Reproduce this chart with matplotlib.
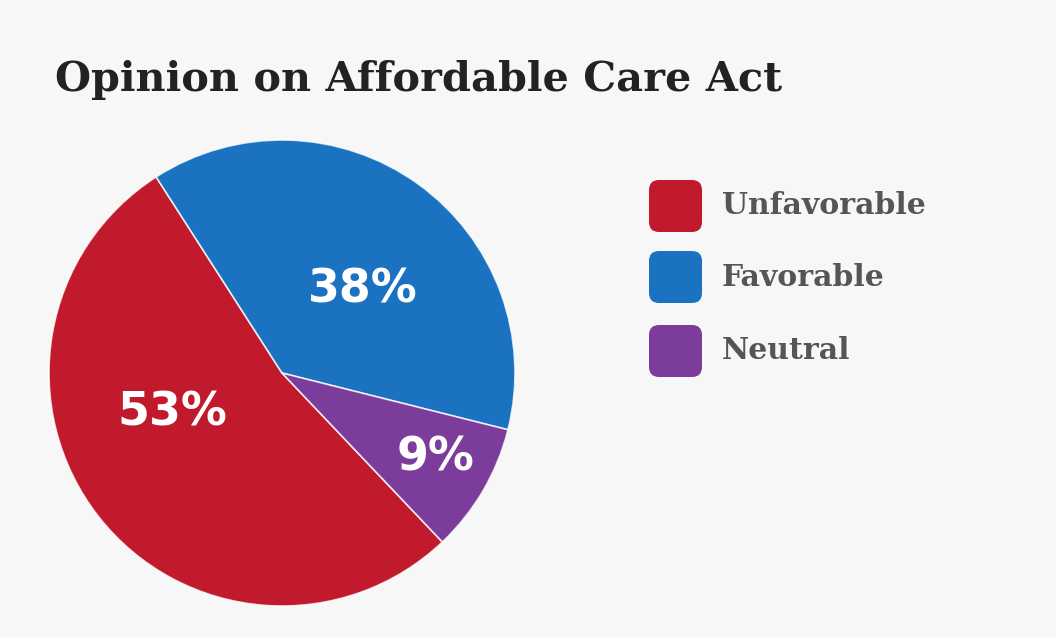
import matplotlib
matplotlib.use("Agg")
import matplotlib.pyplot as plt
from matplotlib.patches import FancyBboxPatch

# data
categories = ["Unfavorable", "Favorable", "Neutral"]
shares = [53, 38, 9]
colors = ["#c01a2c", "#1a72c0", "#7c3c9c"]
pct_labels = ["53%", "38%", "9%"]

W, H = 1056, 637
fig = plt.figure(figsize=(W / 100, H / 100), dpi=100)
fig.patch.set_facecolor("#f7f7f7")

# pie axes, placed in pixels (center 282,373 r 233)
cx, cy, r = 282, 373, 233
ax = fig.add_axes([(cx - r) / W, (H - cy - r) / H, 2 * r / W, 2 * r / H])
wedges, _ = ax.pie(shares, colors=colors, startangle=-46.5, counterclock=False,
                   wedgeprops=dict(edgecolor=(1, 1, 1, 0.8), linewidth=1.2))
ax.set_xlim(-1, 1)
ax.set_ylim(-1, 1)
ax.set_aspect("equal")
ax.axis("off")

# label spots inside the slices (radius units)
label_pos = [(-0.47, -0.17), (0.345, 0.355), (0.66, -0.365)]
for txt, (x, y) in zip(pct_labels, label_pos):
    ax.text(x, y, txt, ha="center", va="center", color="white",
            fontsize=33, fontweight="bold", family="DejaVu Sans")

fig.text(55 / W, 1 - 80 / H, "Opinion on Affordable Care Act", ha="left", va="center",
         fontsize=29.8, fontweight="bold", family="DejaVu Serif", color="#222222")

# legend with rounded squares
ys = [206, 277, 351]
for name, col, yy in zip(categories, colors, ys):
    box = FancyBboxPatch((649, H - yy - 26), 53, 52,
                         boxstyle="round,pad=0,rounding_size=10",
                         transform=None, facecolor=col, edgecolor="none")
    fig.patches.append(box)
    fig.text(722 / W, 1 - yy / H, name, ha="left", va="center", fontsize=21.5,
             fontweight="bold", family="DejaVu Serif", color="#555555")

fig.savefig("out.png", dpi=100, facecolor=fig.get_facecolor())
